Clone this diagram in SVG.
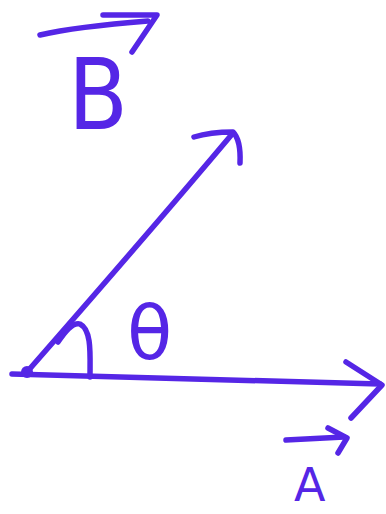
<svg xmlns="http://www.w3.org/2000/svg" width="386" height="514" viewBox="0 0 386 514">
<style>
.s{fill:none;stroke:#5526e6;stroke-width:5.5;stroke-linecap:round;stroke-linejoin:round}
.t{fill:#5526e6;font-family:"DejaVu Sans",sans-serif}
</style>
<rect width="386" height="514" fill="#ffffff"/>
<g id="connectors">
<path class="s" d="M12,374 C120,376 250,380 380,384"/>
<path class="s" d="M346,362 L382,385 L351,418"/>
<path class="s" d="M27,372 C90,300 160,220 233,133"/>
<path class="s" d="M194,137 Q210,132 233,132 Q241,140 240,163"/>
<path class="s" d="M58,342 C66,330 74,322 80,324 C92,330 90,355 90,377"/>
<circle cx="27" cy="372" r="6" fill="#5526e6"/>
</g>
<g id="label-B">
<path class="s" d="M40,35 C70,28 110,24 148,21"/>
<path class="s" d="M103,15 L157,15 L132,52"/>
<text class="t" x="68" y="129" font-size="98" textLength="60" lengthAdjust="spacingAndGlyphs">B</text>
</g>
<g id="label-theta">
<text class="t" x="127" y="359" font-size="74">θ</text>
</g>
<g id="label-A">
<path class="s" d="M286,440 L344,437"/>
<path class="s" d="M328,428 L347,438 L338,453"/>
<text class="t" x="294" y="501" font-size="46">A</text>
</g>
</svg>
